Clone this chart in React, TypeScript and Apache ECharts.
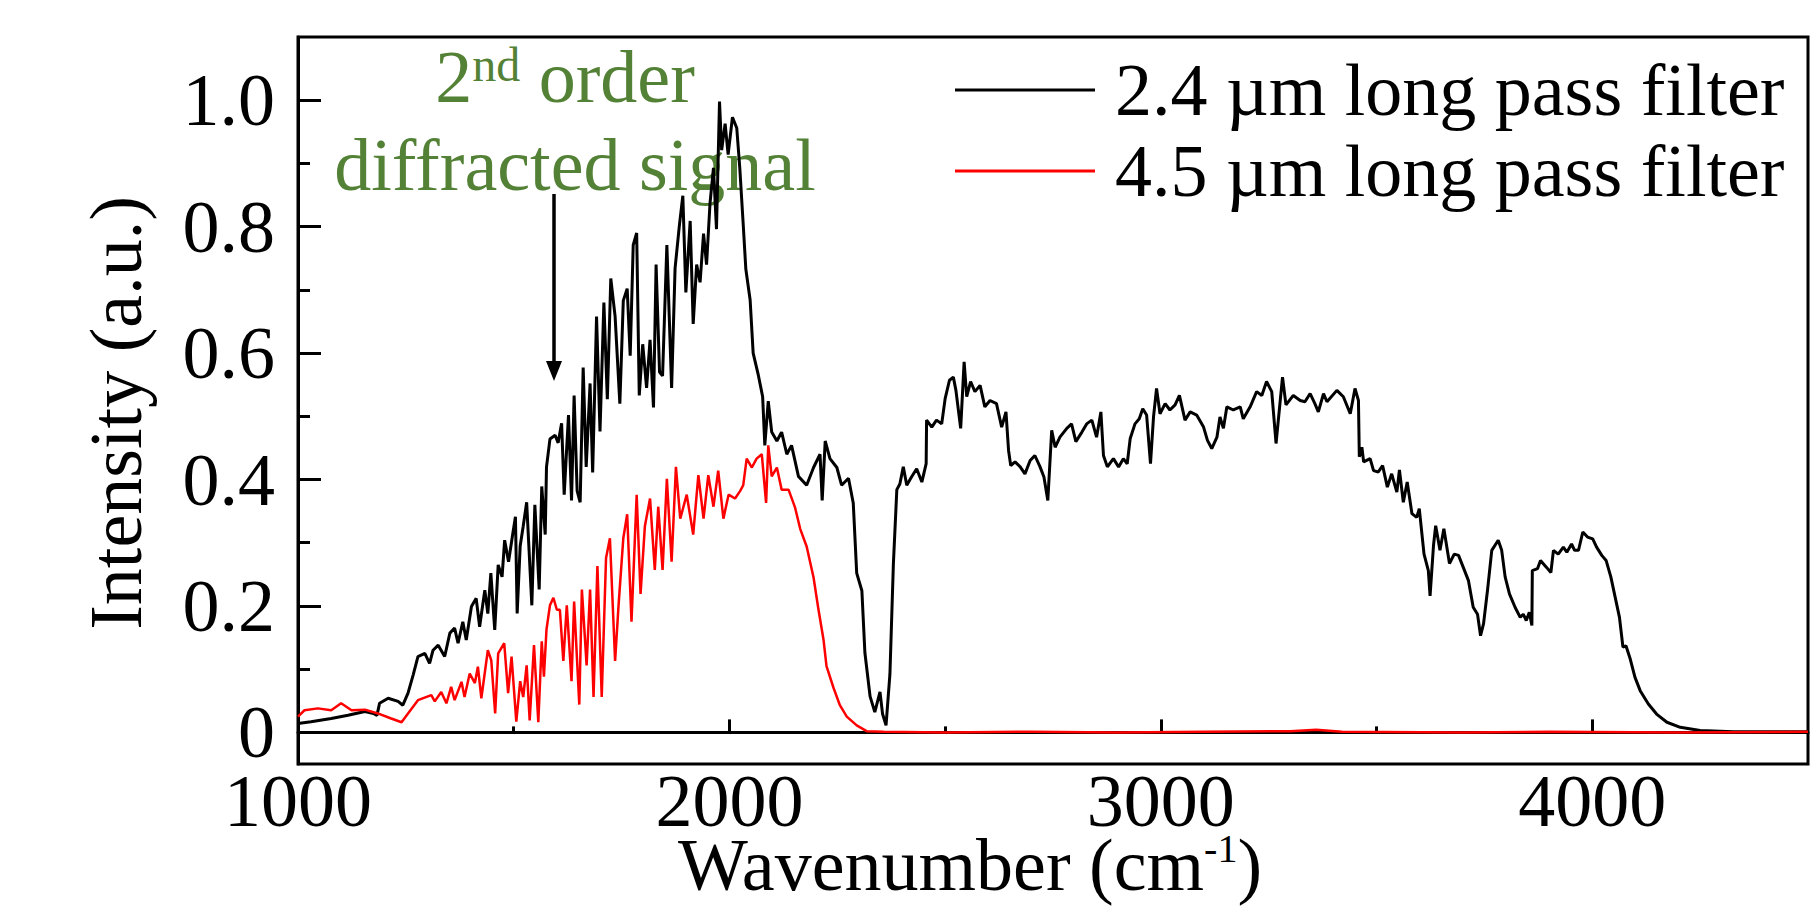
import { useEffect, useRef } from "react";
import * as echarts from "echarts";

const FONT = '"Liberation Serif", "Times New Roman", serif';

const xMajorTicks = [1000, 2000, 3000, 4000];
const xMinorTicks = [1500, 2500, 3500];
const yMajorTicks = [0, 0.2, 0.4, 0.6, 0.8, 1.0];
const yMinorTicks = [0.1, 0.3, 0.5, 0.7, 0.9];

const seriesNames = ["2.4 µm long pass filter", "4.5 µm long pass filter"];

// 2.4 µm long pass filter (black)
const black24: [number, number][] = [
  [1000, 0.014], [1030, 0.017], [1077, 0.022], [1116, 0.027], [1155, 0.033], [1175, 0.03], [1183, 0.027],
  [1189, 0.046], [1209, 0.054], [1232, 0.049], [1243, 0.043], [1255, 0.062], [1267, 0.091], [1278, 0.12],
  [1294, 0.125], [1305, 0.109], [1313, 0.13], [1325, 0.138], [1340, 0.12], [1352, 0.157], [1363, 0.165],
  [1371, 0.141], [1382, 0.175], [1390, 0.146], [1402, 0.199], [1413, 0.212], [1421, 0.167], [1433, 0.225],
  [1440, 0.188], [1447, 0.252], [1456, 0.162], [1464, 0.265], [1473, 0.246], [1479, 0.304], [1488, 0.27],
  [1498, 0.315], [1504, 0.341], [1508, 0.188], [1515, 0.295], [1522, 0.326], [1530, 0.364], [1542, 0.201],
  [1549, 0.36], [1559, 0.226], [1565, 0.389], [1573, 0.313], [1576, 0.42], [1584, 0.464], [1596, 0.47],
  [1603, 0.458], [1611, 0.489], [1617, 0.376], [1627, 0.502], [1634, 0.367], [1640, 0.533], [1647, 0.382],
  [1654, 0.364], [1661, 0.577], [1668, 0.42], [1677, 0.552], [1683, 0.411], [1692, 0.658], [1700, 0.476],
  [1709, 0.68], [1717, 0.527], [1725, 0.718], [1735, 0.658], [1746, 0.52], [1754, 0.683], [1763, 0.702],
  [1770, 0.596], [1777, 0.771], [1785, 0.79], [1791, 0.533], [1799, 0.614], [1808, 0.545], [1816, 0.621],
  [1824, 0.514], [1830, 0.74], [1838, 0.57], [1845, 0.564], [1855, 0.771], [1866, 0.545], [1874, 0.734],
  [1884, 0.802], [1892, 0.849], [1899, 0.696], [1909, 0.809], [1916, 0.646], [1924, 0.74], [1932, 0.712],
  [1940, 0.789], [1947, 0.74], [1955, 0.837], [1963, 0.893], [1970, 0.796], [1977, 0.998], [1982, 0.921],
  [1990, 0.963], [1997, 0.914], [2007, 0.973], [2017, 0.956], [2024, 0.893], [2032, 0.803], [2038, 0.733],
  [2048, 0.684], [2055, 0.6], [2067, 0.565], [2077, 0.531], [2082, 0.454], [2090, 0.524], [2098, 0.475],
  [2110, 0.461], [2121, 0.475], [2133, 0.44], [2144, 0.454], [2160, 0.405], [2179, 0.391], [2195, 0.419],
  [2210, 0.44], [2215, 0.367], [2222, 0.461], [2233, 0.433], [2249, 0.419], [2260, 0.391], [2276, 0.402],
  [2287, 0.363], [2295, 0.252], [2307, 0.224], [2314, 0.126], [2326, 0.057], [2337, 0.032], [2349, 0.064],
  [2355, 0.029], [2363, 0.011], [2372, 0.092], [2380, 0.266], [2388, 0.384], [2395, 0.393], [2403, 0.42],
  [2411, 0.391], [2422, 0.404], [2434, 0.417], [2446, 0.396], [2456, 0.425], [2457, 0.494], [2469, 0.483],
  [2480, 0.494], [2492, 0.488], [2500, 0.528], [2510, 0.557], [2519, 0.562], [2525, 0.541], [2536, 0.481],
  [2544, 0.586], [2550, 0.531], [2559, 0.555], [2569, 0.539], [2581, 0.549], [2592, 0.515], [2604, 0.525],
  [2619, 0.52], [2631, 0.483], [2641, 0.507], [2647, 0.446], [2652, 0.422], [2662, 0.428], [2674, 0.42],
  [2685, 0.409], [2697, 0.43], [2708, 0.438], [2720, 0.42], [2729, 0.404], [2738, 0.367], [2747, 0.478],
  [2755, 0.451], [2766, 0.467], [2782, 0.481], [2793, 0.488], [2803, 0.46], [2817, 0.475], [2828, 0.488],
  [2840, 0.494], [2851, 0.467], [2861, 0.507], [2867, 0.438], [2876, 0.42], [2890, 0.433], [2902, 0.42],
  [2913, 0.433], [2922, 0.425], [2929, 0.465], [2940, 0.488], [2950, 0.496], [2958, 0.512], [2967, 0.502],
  [2976, 0.425], [2983, 0.499], [2990, 0.544], [2998, 0.504], [3010, 0.52], [3021, 0.51], [3033, 0.518],
  [3043, 0.533], [3056, 0.494], [3068, 0.507], [3083, 0.502], [3099, 0.483], [3108, 0.462], [3118, 0.449],
  [3130, 0.467], [3137, 0.499], [3145, 0.481], [3153, 0.515], [3168, 0.51], [3184, 0.515], [3191, 0.496],
  [3207, 0.515], [3222, 0.539], [3234, 0.533], [3245, 0.555], [3257, 0.539], [3267, 0.457], [3282, 0.562],
  [3290, 0.518], [3307, 0.533], [3323, 0.525], [3334, 0.523], [3346, 0.536], [3357, 0.52], [3365, 0.507],
  [3377, 0.536], [3385, 0.523], [3408, 0.541], [3423, 0.531], [3439, 0.504], [3450, 0.544], [3458, 0.525],
  [3460, 0.436], [3466, 0.451], [3470, 0.428], [3485, 0.433], [3493, 0.414], [3504, 0.412], [3514, 0.422],
  [3525, 0.388], [3535, 0.409], [3547, 0.38], [3553, 0.415], [3562, 0.364], [3571, 0.396], [3582, 0.346],
  [3593, 0.34], [3599, 0.354], [3610, 0.282], [3620, 0.256], [3624, 0.216], [3632, 0.296], [3637, 0.327],
  [3647, 0.288], [3656, 0.322], [3669, 0.267], [3680, 0.282], [3690, 0.28], [3701, 0.261], [3713, 0.24],
  [3724, 0.198], [3734, 0.187], [3741, 0.153], [3748, 0.172], [3757, 0.224], [3767, 0.288], [3782, 0.304],
  [3790, 0.288], [3798, 0.246], [3808, 0.219], [3821, 0.198], [3833, 0.182], [3840, 0.187], [3847, 0.177],
  [3854, 0.19], [3860, 0.169], [3861, 0.256], [3873, 0.259], [3880, 0.272], [3894, 0.261], [3904, 0.253],
  [3910, 0.288], [3921, 0.282], [3933, 0.293], [3941, 0.285], [3952, 0.298], [3959, 0.288], [3968, 0.288],
  [3978, 0.317], [3989, 0.309], [4001, 0.306], [4010, 0.293], [4022, 0.28], [4032, 0.272], [4043, 0.246],
  [4053, 0.214], [4063, 0.182], [4071, 0.135], [4078, 0.137], [4088, 0.116], [4099, 0.087], [4111, 0.066],
  [4130, 0.045], [4149, 0.029], [4173, 0.016], [4204, 0.008], [4250, 0.003], [4327, 0.001], [4400, 0.001],
  [4500, 0.001],
];

// 4.5 µm long pass filter (red)
const red45: [number, number][] = [
  [1000, 0.025], [1015, 0.035], [1046, 0.038], [1077, 0.035], [1100, 0.046], [1124, 0.035], [1155, 0.036],
  [1185, 0.03], [1216, 0.022], [1240, 0.016], [1255, 0.03], [1278, 0.051], [1309, 0.059], [1317, 0.049],
  [1332, 0.064], [1344, 0.046], [1355, 0.072], [1363, 0.051], [1379, 0.08], [1386, 0.056], [1398, 0.093],
  [1410, 0.078], [1417, 0.104], [1425, 0.054], [1440, 0.13], [1448, 0.114], [1457, 0.03], [1464, 0.125],
  [1478, 0.141], [1487, 0.062], [1495, 0.12], [1506, 0.017], [1515, 0.081], [1522, 0.056], [1530, 0.106],
  [1537, 0.019], [1547, 0.138], [1557, 0.016], [1565, 0.144], [1570, 0.088], [1576, 0.163], [1584, 0.201],
  [1592, 0.213], [1600, 0.194], [1607, 0.194], [1615, 0.113], [1623, 0.201], [1634, 0.081], [1640, 0.207],
  [1652, 0.044], [1658, 0.226], [1669, 0.106], [1677, 0.226], [1685, 0.056], [1694, 0.263], [1704, 0.056],
  [1714, 0.276], [1723, 0.307], [1735, 0.113], [1743, 0.201], [1754, 0.307], [1763, 0.345], [1773, 0.175],
  [1785, 0.376], [1794, 0.219], [1804, 0.326], [1816, 0.37], [1827, 0.257], [1835, 0.357], [1845, 0.257],
  [1855, 0.401], [1866, 0.27], [1876, 0.42], [1886, 0.338], [1901, 0.376], [1916, 0.313], [1928, 0.407],
  [1940, 0.338], [1951, 0.407], [1963, 0.357], [1974, 0.414], [1986, 0.338], [1998, 0.376], [2013, 0.37],
  [2025, 0.382], [2032, 0.391], [2040, 0.433], [2052, 0.419], [2063, 0.433], [2075, 0.44], [2085, 0.363],
  [2090, 0.454], [2098, 0.405], [2110, 0.419], [2121, 0.384], [2137, 0.384], [2152, 0.356], [2164, 0.322],
  [2179, 0.294], [2195, 0.245], [2206, 0.196], [2218, 0.147], [2225, 0.105], [2241, 0.071], [2256, 0.043],
  [2272, 0.025], [2295, 0.011], [2318, 0.002], [2357, 0.001], [2500, 0.0], [2700, 0.001], [2900, 0.0],
  [3100, 0.001], [3300, 0.002], [3360, 0.004], [3420, 0.001], [3700, 0.0], [3900, 0.001], [4200, 0.0],
  [4500, 0.001],
];

export default function App() {
  const ref = useRef<HTMLDivElement>(null);

  useEffect(() => {
    if (!ref.current) return;
    const chart = echarts.init(ref.current, null, { renderer: "svg" });

    const tickStyle = { color: "#000", width: 3 };

    chart.setOption({
      animation: false,
      backgroundColor: "#ffffff",
      textStyle: { fontFamily: FONT },
      grid: {
        left: 298,
        top: 37,
        width: 1510,
        height: 727,
        show: true,
        borderColor: "#000",
        borderWidth: 3,
        backgroundColor: "transparent",
      },
      xAxis: [
        {
          type: "value",
          min: 1000,
          max: 4500,
          position: "bottom",
          axisLine: { show: true, lineStyle: { color: "#000", width: 3 } },
          axisTick: { show: true, inside: true, length: 13, lineStyle: tickStyle, customValues: xMajorTicks },
          axisLabel: {
            show: true,
            customValues: xMajorTicks,
            fontSize: 74,
            lineHeight: 58,
            fontFamily: FONT,
            color: "#000",
            margin: 8,
            formatter: (v: number) => String(v),
          },
          splitLine: { show: false },
        },
        {
          type: "value",
          min: 1000,
          max: 4500,
          position: "bottom",
          axisLine: { show: false },
          axisTick: { show: true, inside: true, length: 6, lineStyle: tickStyle, customValues: xMinorTicks },
          axisLabel: { show: false },
          splitLine: { show: false },
        },
      ],
      yAxis: [
        {
          type: "value",
          min: -0.05,
          max: 1.1,
          position: "left",
          axisLine: { show: true, lineStyle: { color: "#000", width: 3 } },
          axisTick: { show: true, inside: true, length: 23, lineStyle: tickStyle, customValues: yMajorTicks },
          axisLabel: {
            show: true,
            customValues: yMajorTicks,
            fontSize: 74,
            lineHeight: 58,
            fontFamily: FONT,
            color: "#000",
            margin: 23,
            formatter: (v: number) => (Math.abs(v) < 1e-9 ? "0" : v.toFixed(1)),
          },
          splitLine: { show: false },
        },
        {
          type: "value",
          min: -0.05,
          max: 1.1,
          position: "left",
          axisLine: { show: false },
          axisTick: { show: true, inside: true, length: 12, lineStyle: tickStyle, customValues: yMinorTicks },
          axisLabel: { show: false },
          splitLine: { show: false },
        },
      ],
      legend: {
        show: true,
        orient: "vertical",
        left: 955,
        top: 49.5,
        padding: 0,
        itemGap: 0,
        itemWidth: 140,
        itemHeight: 3,
        icon: "rect",
        data: seriesNames,
        textStyle: {
          fontSize: 74,
          fontFamily: FONT,
          color: "#000",
          lineHeight: 81,
          padding: [0, 0, 0, 15],
        },
      },
      series: [
        {
          type: "line",
          name: seriesNames[0],
          data: black24,
          xAxisIndex: 0,
          yAxisIndex: 0,
          showSymbol: false,
          symbol: "none",
          lineStyle: { color: "#000000", width: 3 },
          itemStyle: { color: "#000000" },
          z: 2,
        },
        {
          type: "line",
          name: seriesNames[1],
          data: red45,
          xAxisIndex: 0,
          yAxisIndex: 0,
          showSymbol: false,
          symbol: "none",
          lineStyle: { color: "#ff0000", width: 2.5 },
          itemStyle: { color: "#ff0000" },
          z: 3,
        },
      ],
      graphic: [
        {
          type: "text",
          x: 116,
          y: 413,
          rotation: Math.PI / 2,
          style: {
            text: "Intensity (a.u.)",
            fontSize: 74,
            lineHeight: 66,
            fontFamily: FONT,
            fill: "#000",
            align: "center",
            verticalAlign: "middle",
            textAlign: "center",
            textVerticalAlign: "middle",
          },
        },
        {
          type: "text",
          x: 970,
          y: 865,
          style: {
            text: "Wavenumber (cm{s|-1})",
            fontSize: 74,
            lineHeight: 74,
            fontFamily: FONT,
            fill: "#000",
            align: "center",
            verticalAlign: "middle",
            textAlign: "center",
            textVerticalAlign: "middle",
            rich: {
              s: { fontSize: 40, lineHeight: 46, verticalAlign: "top", fontFamily: FONT, fill: "#000" },
            },
          },
        },
        {
          type: "text",
          x: 565,
          y: 77,
          style: {
            text: "2{s|nd} order",
            fontSize: 74,
            lineHeight: 74,
            fontFamily: FONT,
            fill: "#538135",
            align: "center",
            verticalAlign: "middle",
            textAlign: "center",
            textVerticalAlign: "middle",
            rich: {
              s: { fontSize: 48, lineHeight: 48, verticalAlign: "top", fontFamily: FONT, fill: "#538135" },
            },
          },
        },
        {
          type: "text",
          x: 575,
          y: 165,
          style: {
            text: "diffracted signal",
            fontSize: 74,
            fontFamily: FONT,
            fill: "#538135",
            align: "center",
            verticalAlign: "middle",
            textAlign: "center",
            textVerticalAlign: "middle",
          },
        },
        {
          type: "line",
          shape: { x1: 554, y1: 194, x2: 554, y2: 366 },
          style: { stroke: "#000", lineWidth: 3.5 },
        },
        {
          type: "polygon",
          shape: { points: [[546, 361], [562, 361], [554, 381]] },
          style: { fill: "#000" },
        },
      ],
    });

    return () => {
      chart.dispose();
    };
  }, []);

  return (
    <div
      ref={ref}
      style={{ position: "fixed", left: 0, top: 0, width: 1812, height: 907, background: "#fff" }}
    />
  );
}
